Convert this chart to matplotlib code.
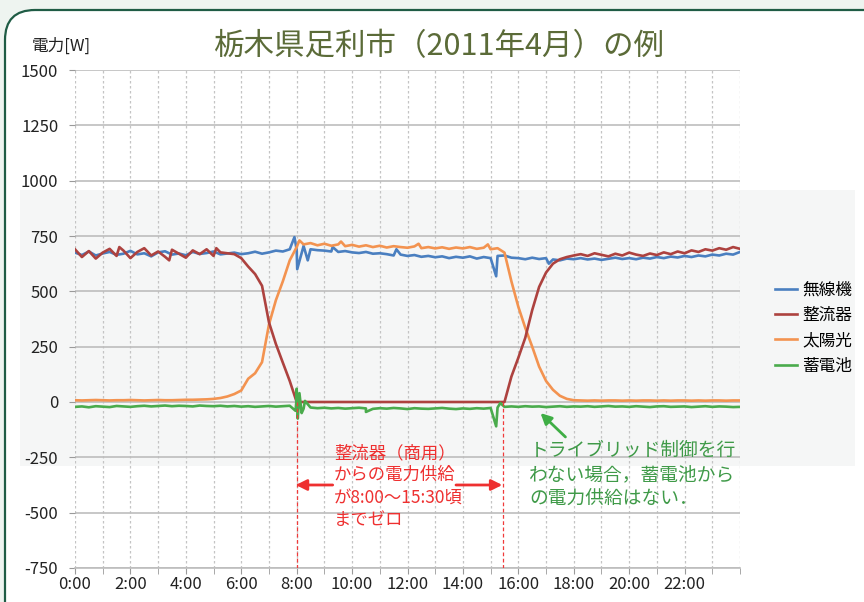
import numpy as np
import matplotlib
matplotlib.use("Agg")
import matplotlib.pyplot as plt
from matplotlib.patches import FancyBboxPatch, Rectangle

plt.rcParams['font.family'] = ['Noto Sans CJK JP', 'DejaVu Sans']
plt.rcParams['axes.unicode_minus'] = False

# ---- data (15 min steps, 0:00 - 24:00) ----
hours = np.arange(0, 24.01, 0.25)

musenki = [675, 664, 680, 662, 671, 678, 665, 670, 683, 667, 672, 658, 676, 681, 666, 671, 663, 678, 669, 673,
           680, 667, 671, 675, 668,
           672, 679, 670, 676, 684, 680, 690,
           688,
           705, 690, 686, 684, 680, 678, 682, 676, 673, 678, 670, 672, 668, 662, 666, 660, 664, 656, 660, 654,
           658, 650, 656, 652, 658, 648, 655, 650, 660, 662,
           652, 650, 645, 652, 646, 650, 644, 640, 648, 645, 650, 644, 648, 642, 647, 652, 646, 650, 645, 652,
           648, 655, 650, 657, 653, 660, 655, 662, 658, 666, 662, 670, 666, 678]
seiryuki = [690, 655, 682, 648, 675, 692, 660, 684, 650, 678, 695, 662, 680, 656, 688, 670, 652, 685, 668, 690,
            660, 676, 672,
            668, 650,
            612, 578, 525, 360, 262, 178, 95,
            0,
            0, 0, 0, 0, 0, 0, 0, 0, 0, 0, 0, 0, 0, 0, 0, 0, 0, 0, 0, 0, 0, 0, 0, 0, 0, 0, 0, 0, 0, 0,
            115, 200, 290, 415, 520, 585, 625, 645, 655, 662,
            668, 660, 672, 665, 658, 670, 662, 675, 666, 660, 671, 664, 676, 668, 680, 672, 685, 678, 690, 684,
            695, 688, 700, 692]
taiyoko = [8, 7, 8, 9, 8, 7, 8, 8, 9, 8, 7, 8, 9, 8, 8, 9, 10, 10, 11, 12,
           14, 18, 25, 36, 52,
           105, 130, 180, 350, 460, 545, 640,
           700,
           712, 718, 708, 715, 706, 712, 704, 710, 702, 708, 700, 706, 698, 704, 700, 697, 703, 695, 700, 694,
           699, 692, 698, 694, 700, 692, 697, 690, 695, 675,
           545, 430, 335, 250, 160, 95, 55, 28, 14, 8,
           7, 6, 7, 6, 7, 7, 6, 7, 6, 7, 7, 6, 7, 6, 7, 7, 6, 7, 6, 7, 7, 6, 7, 7]
chikudenchi = [-22, -20, -24, -19, -21, -23, -18, -20, -22, -19, -17, -20, -18, -16, -19, -17, -18, -20, -16, -18,
               -19, -17, -20, -18, -21, -19, -22, -20, -18, -21, -19, -17,
               20,
               -30, -25, -28, -26, -29, -27, -30, -28, -26, -29, -31, -28, -30, -27, -29, -32, -28, -30, -31, -29,
               -27, -30, -32, -29, -31, -28, -30, -27, -25, -22,
               -20, -22, -19, -21, -20, -23, -21, -19, -22, -20, -21, -19, -22, -20, -18, -21, -20, -22, -19, -21,
               -23, -20, -19, -22, -21, -20, -23, -21, -19, -22, -20, -21, -23, -22]

# short spikes (time, value)
musenki_spikes = [(7.92, 745), (8.02, 600), (8.4, 640), (9.3, 700), (11.6, 690), (15.2, 568), (17.1, 625)]
seiryuki_spikes = [(1.6, 700), (3.4, 640), (5.1, 695)]
taiyoko_spikes = [(8.1, 730), (9.6, 725), (12.4, 715), (14.9, 712)]
chikudenchi_spikes = [(7.96, -40), (8.0, 60), (8.04, -75), (8.1, 40), (8.18, -50), (8.3, 5), (10.5, -45),
                      (15.2, -110), (15.35, -5)]

labels = ['無線機', '整流器', '太陽光', '蓄電池']
colors = ['#4a7fc0', '#ad423f', '#f39350', '#4aab4c']


def with_spikes(v, spikes):
    tt = np.concatenate([hours, [s[0] for s in spikes]])
    vv = np.concatenate([v, [s[1] for s in spikes]])
    o = np.argsort(tt, kind='stable')
    return tt[o], vv[o]


fig = plt.figure(figsize=(8.64, 6.02), dpi=100)
fig.patch.set_facecolor('#eef4f0')
frame = FancyBboxPatch((0.05, -0.3), 8.9, 6.22, boxstyle='round,pad=0,rounding_size=0.3',
                       transform=fig.dpi_scale_trans, facecolor='white', edgecolor='#1f5c45', lw=1.6, zorder=-2)
fig.patches.append(frame)
fig.patches.append(Rectangle((0.023, 0.226), 0.967, 0.458, transform=fig.transFigure,
                             facecolor='#f5f6f6', edgecolor='none', zorder=-1))

ax = fig.add_axes([0.0868, 0.0565, 0.7697, 0.8272])
ax.set_zorder(1)
ax.patch.set_alpha(0)

series = [musenki, taiyoko, seiryuki, chikudenchi]
spikes = [musenki_spikes, taiyoko_spikes, seiryuki_spikes, chikudenchi_spikes]
order = [0, 2, 1, 3]
lines = {}
for k, (v, sp) in enumerate(zip(series, spikes)):
    idx = order[k]
    tt, vv = with_spikes(v, sp)
    ln, = ax.plot(tt, vv, color=colors[idx], lw=1.9, label=labels[idx], zorder=3 + k)
    lines[idx] = ln

ax.set_xlim(0, 24)
ax.set_ylim(-750, 1500)
ax.set_yticks(np.arange(-750, 1501, 250))
ax.set_xticks(np.arange(0, 23, 2))
ax.set_xticklabels(['%d:00' % h for h in range(0, 23, 2)])
ax.set_xticks(np.arange(0, 25, 1), minor=True)
ax.tick_params(axis='both', which='both', colors='#9a9a9a', labelcolor='#222222', labelsize=12, length=4)
ax.tick_params(axis='y', pad=8)
ax.tick_params(axis='x', pad=2)
for s in ['top', 'right', 'left']:
    ax.spines[s].set_visible(False)
ax.spines['bottom'].set_color('#bdbdbd')
ax.spines['bottom'].set_linewidth(1.2)
ax.grid(axis='y', color='#bdbdbd', lw=1.2)
ax.grid(axis='x', which='both', color='#c4c4c4', lw=0.9, linestyle=(0, (2, 2)))
ax.set_axisbelow(True)

# red dashed markers at 8:00 and 15:30
for x0 in [8.0, 15.45]:
    ax.plot([x0, x0], [0, -750], color='#f03a3a', lw=0.9, linestyle=(0, (3, 2)), zorder=8)

ax.text(9.35, -190, '整流器（商用）\nからの電力供給\nが8:00～15:30頃\nまでゼロ', color='#ee3030',
        fontsize=12.5, va='top', ha='left', linespacing=1.3, zorder=9)
arrow_red = dict(arrowstyle='-|>', color='#ee3030', lw=2, mutation_scale=16, shrinkA=0, shrinkB=0)
ax.annotate('', xy=(7.97, -375), xytext=(9.3, -375), arrowprops=arrow_red, zorder=9)
ax.annotate('', xy=(15.42, -375), xytext=(13.75, -375), arrowprops=arrow_red, zorder=9)

ax.text(16.4, -172, 'トライブリッド制御を行\nわない場合，蓄電池から\nの電力供給はない．', color='#3f9a48',
        fontsize=13.5, va='top', ha='left', linespacing=1.2, zorder=9)
ax.annotate('', xy=(16.8, -50), xytext=(17.7, -158),
            arrowprops=dict(arrowstyle='-|>', color='#3fae45', lw=2, mutation_scale=16, shrinkA=0, shrinkB=0),
            zorder=9)

fig.text(0.509, 0.922, '栃木県足利市（2011年4月）の例', color='#5b6b38', fontsize=22, ha='center', va='center')
fig.text(0.037, 0.923, '電力[W]', color='#222222', fontsize=12, ha='left', va='center')

handles = [lines[i] for i in range(4)]
fig.legend(handles, labels, loc='center left', bbox_to_anchor=(0.88, 0.455), frameon=False,
           fontsize=12, handlelength=1.3, handletextpad=0.3, labelspacing=0.5)

fig.savefig('out.png', dpi=100)
